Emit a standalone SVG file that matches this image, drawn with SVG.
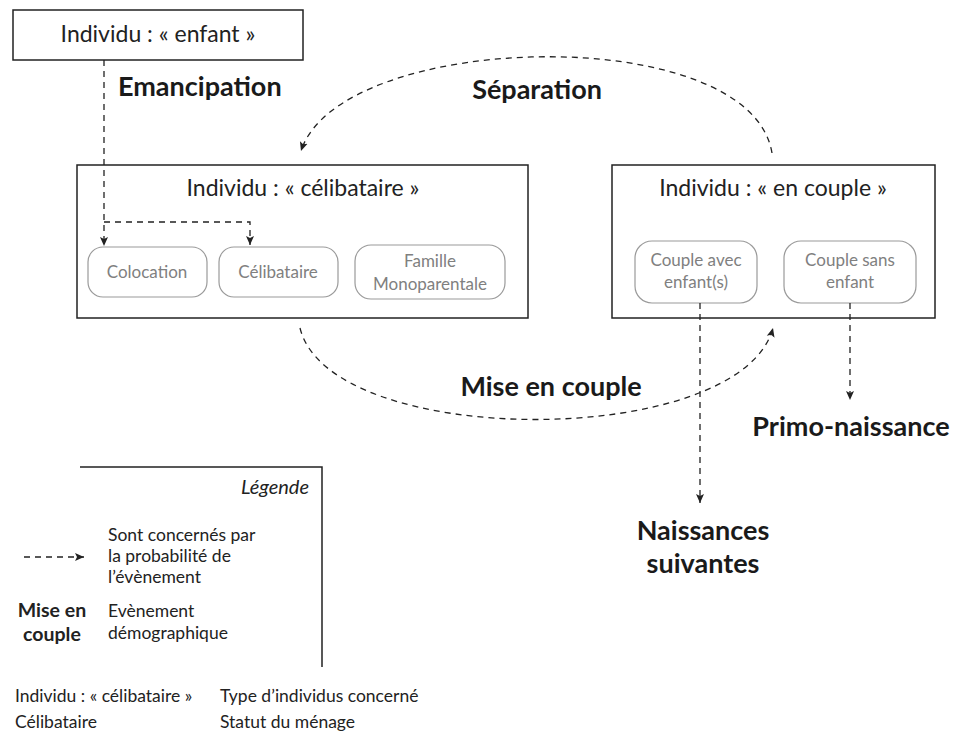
<svg xmlns="http://www.w3.org/2000/svg" width="954" height="738" viewBox="0 0 954 738">
<defs>
<marker id="arr" markerUnits="userSpaceOnUse" markerWidth="10" markerHeight="10" viewBox="0 0 10 10" refX="9" refY="5" orient="auto">
<path d="M0,1 L9,5 L0,9 L2,5 z" fill="#222"/>
</marker>
<style>
.box{fill:#fff;stroke:#222;stroke-width:1.5}
.sub{fill:#fff;stroke:#9a9a9a;stroke-width:1.2}
.t{font-family:Lato,"Liberation Sans",sans-serif;fill:#222}
.title{font-size:23px;text-anchor:middle}
.grey{font-size:17px;fill:#808080;text-anchor:middle}
.ev{font-size:27px;font-weight:bold;fill:#1a1a1a}
.lg{font-size:17.5px}
.dash{fill:none;stroke:#222;stroke-width:1.3;stroke-dasharray:6 5}
</style>
</defs>

<g id="enfant">
<rect class="box" x="13" y="10" width="290" height="50"/>
<text class="t title" x="158" y="42">Individu : « enfant »</text>
</g>

<g id="celibataire">
<rect class="box" x="77" y="165" width="451" height="153"/>
<text class="t title" x="303" y="196">Individu : « célibataire »</text>
<g id="colocation">
<rect class="sub" x="88" y="247" width="119" height="50" rx="15"/>
<text class="t grey" x="147" y="278">Colocation</text>
</g>
<g id="celib">
<rect class="sub" x="219" y="247" width="119" height="50" rx="15"/>
<text class="t grey" x="278" y="278">Célibataire</text>
</g>
<g id="monoparentale">
<rect class="sub" x="355" y="245" width="150" height="54" rx="16"/>
<text class="t grey" x="430" y="267">Famille</text>
<text class="t grey" x="430" y="290">Monoparentale</text>
</g>
</g>

<g id="couple">
<rect class="box" x="612" y="165" width="323" height="153"/>
<text class="t title" x="773" y="196">Individu : « en couple »</text>
<g id="avec">
<rect class="sub" x="635" y="241" width="122" height="62" rx="17"/>
<text class="t grey" x="696" y="266">Couple avec</text>
<text class="t grey" x="696" y="288">enfant(s)</text>
</g>
<g id="sans">
<rect class="sub" x="784" y="241" width="132" height="62" rx="17"/>
<text class="t grey" x="850" y="266">Couple sans</text>
<text class="t grey" x="850" y="288">enfant</text>
</g>
</g>

<g id="connectors">
<path class="dash" d="M104,60 V246" marker-end="url(#arr)"/>
<path class="dash" d="M104,222 H250 V245" marker-end="url(#arr)"/>
<path class="dash" d="M772,153 C750,20 340,30 301,151" marker-end="url(#arr)"/>
<path class="dash" d="M300,328 C330,450 740,450 773,328" marker-end="url(#arr)"/>
<path class="dash" d="M700,303 V503" marker-end="url(#arr)"/>
<path class="dash" d="M850,303 V400" marker-end="url(#arr)"/>
</g>

<g id="events">
<text class="t ev" x="118" y="96">Emancipation</text>
<text class="t ev" x="537" y="99" text-anchor="middle">Séparation</text>
<text class="t ev" x="551" y="396" text-anchor="middle">Mise en couple</text>
<text class="t ev" x="851" y="436" text-anchor="middle">Primo-naissance</text>
<text class="t ev" x="703" y="540" text-anchor="middle">Naissances</text>
<text class="t ev" x="703" y="573" text-anchor="middle">suivantes</text>
</g>

<g id="legend">
<path d="M80,467 H322 V667" fill="none" stroke="#222" stroke-width="1.5"/>
<text class="t" x="309" y="494" text-anchor="end" font-style="italic" font-size="20">Légende</text>
<path class="dash" d="M24,557 H84" marker-end="url(#arr)"/>
<text class="t lg" x="108" y="541">Sont concernés par</text>
<text class="t lg" x="108" y="562">la probabilité de</text>
<text class="t lg" x="108" y="583">l’évènement</text>
<text class="t" x="52" y="617" text-anchor="middle" font-size="19.5" font-weight="bold">Mise en</text>
<text class="t" x="52" y="641" text-anchor="middle" font-size="19.5" font-weight="bold">couple</text>
<text class="t lg" x="108" y="617">Evènement</text>
<text class="t lg" x="108" y="639">démographique</text>
<text class="t lg" x="15" y="702">Individu : « célibataire »</text>
<text class="t lg" x="220" y="702">Type d’individus concerné</text>
<text class="t lg" x="15" y="728" fill="#808080">Célibataire</text>
<text class="t lg" x="220" y="728">Statut du ménage</text>
</g>
</svg>
